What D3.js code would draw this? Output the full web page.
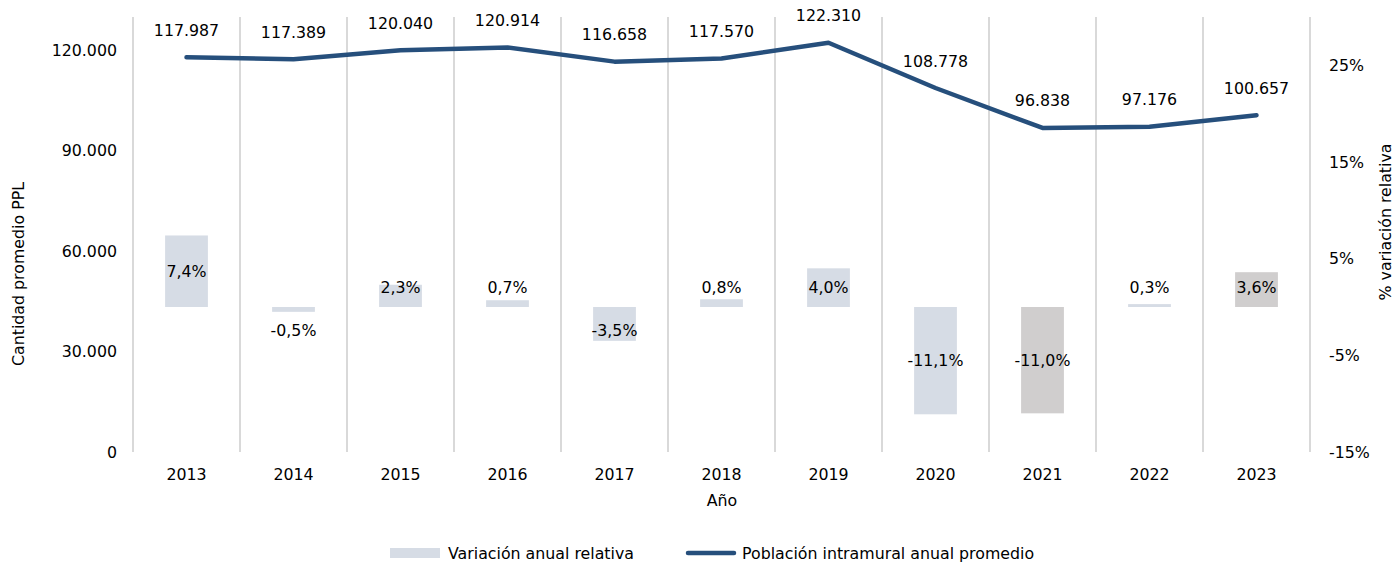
<!DOCTYPE html>
<html>
<head>
<meta charset="utf-8">
<script src="https://cdn.jsdelivr.net/npm/d3@7"></script>
<style>
  html, body { margin: 0; padding: 0; background: #fff; }
  svg { display: block; font-family: "DejaVu Sans", Verdana, sans-serif; }
</style>
</head>
<body>
<svg id="chart" width="1395" height="565"></svg>
<script>
const years = ["2013","2014","2015","2016","2017","2018","2019","2020","2021","2022","2023"];
const poblacion = [117987, 117389, 120040, 120914, 116658, 117570, 122310, 108778, 96838, 97176, 100657];
const variacion = [7.4, -0.5, 2.3, 0.7, -3.5, 0.8, 4.0, -11.1, -11.0, 0.3, 3.6];
const leftTicks = [0, 30000, 60000, 90000, 120000];
const rightTicks = [-15, -5, 5, 15, 25];
const barColors = ["#d6dce5","#d6dce5","#d6dce5","#d6dce5","#d6dce5","#d6dce5","#d6dce5","#d6dce5","#d0cece","#d6dce5","#d0cece"];

(function () {
const FS = 15.8;
const locale = d3.formatLocale({decimal: ",", thousands: ".", grouping: [3], currency: ["", ""], minus: "-"});
const fmtInt = locale.format(",d");
const fmtPct = locale.format(".1f");

const svg = d3.select("#chart");
const pL = 133, pR = 1310, pT = 17, pB = 452;

const x = d3.scaleBand().domain(years).range([pL, pR]);
const yL = d3.scaleLinear().domain([0, 130000]).range([pB, pT]);
const yR = d3.scaleLinear().domain([-15, 30]).range([pB, pT]);

// vertical gridlines at category boundaries
const bounds = years.map(y => x(y)).concat([pR]);
svg.append("g").selectAll("line").data(bounds).join("line")
  .attr("x1", d => d).attr("x2", d => d)
  .attr("y1", pT).attr("y2", pB)
  .attr("stroke", "#d9d9d9").attr("stroke-width", 2);

// bars (right axis)
const bw = x.bandwidth() * 0.4;
const y0 = yR(0);
svg.append("g").selectAll("rect").data(variacion).join("rect")
  .attr("x", (d, i) => x(years[i]) + (x.bandwidth() - bw) / 2)
  .attr("width", bw)
  .attr("y", d => Math.min(yR(d), y0))
  .attr("height", d => Math.abs(yR(d) - y0))
  .attr("fill", (d, i) => barColors[i]);

// bar labels
svg.append("g").selectAll("text").data(variacion).join("text")
  .attr("x", (d, i) => x(years[i]) + x.bandwidth() / 2)
  .attr("y", d => {
    const c = (yR(d) + y0) / 2;
    return d >= 0 ? Math.min(c, y0 - 20) : Math.max(c, y0 + 23);
  })
  .attr("text-anchor", "middle").attr("dominant-baseline", "central")
  .attr("font-size", FS).attr("fill", "#000")
  .text(d => fmtPct(d) + "%");

// line
const line = d3.line()
  .x((d, i) => x(years[i]) + x.bandwidth() / 2)
  .y(d => yL(d));
svg.append("path").datum(poblacion)
  .attr("d", line)
  .attr("fill", "none").attr("stroke", "#264f7c")
  .attr("stroke-width", 4.5).attr("stroke-linecap", "round").attr("stroke-linejoin", "round");

// line labels
svg.append("g").selectAll("text").data(poblacion).join("text")
  .attr("x", (d, i) => x(years[i]) + x.bandwidth() / 2)
  .attr("y", d => yL(d) - 27)
  .attr("text-anchor", "middle").attr("dominant-baseline", "central")
  .attr("font-size", FS).attr("fill", "#000")
  .text(d => fmtInt(d));

// axes
const axL = svg.append("g").attr("transform", `translate(${pL},0)`)
  .call(d3.axisLeft(yL).tickValues(leftTicks).tickSize(0).tickPadding(16).tickFormat(fmtInt));
const axR = svg.append("g").attr("transform", `translate(${pR},0)`)
  .call(d3.axisRight(yR).tickValues(rightTicks).tickSize(0).tickPadding(19).tickFormat(d => locale.format("d")(d) + "%"));
const axB = svg.append("g").attr("transform", `translate(0,${pB})`)
  .call(d3.axisBottom(x).tickSize(0).tickPadding(17));
[axL, axR, axB].forEach(a => {
  a.select(".domain").remove();
  a.selectAll("text").attr("font-size", FS).attr("fill", "#000")
    .attr("font-family", "DejaVu Sans, Verdana, sans-serif");
});

// axis titles
svg.append("text").attr("transform", "translate(18,274) rotate(-90)")
  .attr("text-anchor", "middle").attr("dominant-baseline", "central")
  .attr("font-size", FS).attr("fill", "#000").text("Cantidad promedio PPL");
svg.append("text").attr("transform", "translate(1385,222) rotate(-90)")
  .attr("text-anchor", "middle").attr("dominant-baseline", "central")
  .attr("font-size", FS).attr("fill", "#000").text("% variación relativa");
svg.append("text").attr("x", 722).attr("y", 500)
  .attr("text-anchor", "middle").attr("dominant-baseline", "central")
  .attr("font-size", FS).attr("fill", "#000").text("Año");

// legend
const lg = svg.append("g");
lg.append("rect").attr("x", 390).attr("y", 548).attr("width", 50).attr("height", 10).attr("fill", "#d6dce5");
lg.append("text").attr("x", 448).attr("y", 553).attr("dominant-baseline", "central")
  .attr("font-size", FS).attr("fill", "#000").text("Variación anual relativa");
lg.append("line").attr("x1", 688).attr("x2", 734).attr("y1", 553).attr("y2", 553)
  .attr("stroke", "#264f7c").attr("stroke-width", 4.5).attr("stroke-linecap", "round");
lg.append("text").attr("x", 742).attr("y", 553).attr("dominant-baseline", "central")
  .attr("font-size", FS).attr("fill", "#000").text("Población intramural anual promedio");
})();
</script>
</body>
</html>
